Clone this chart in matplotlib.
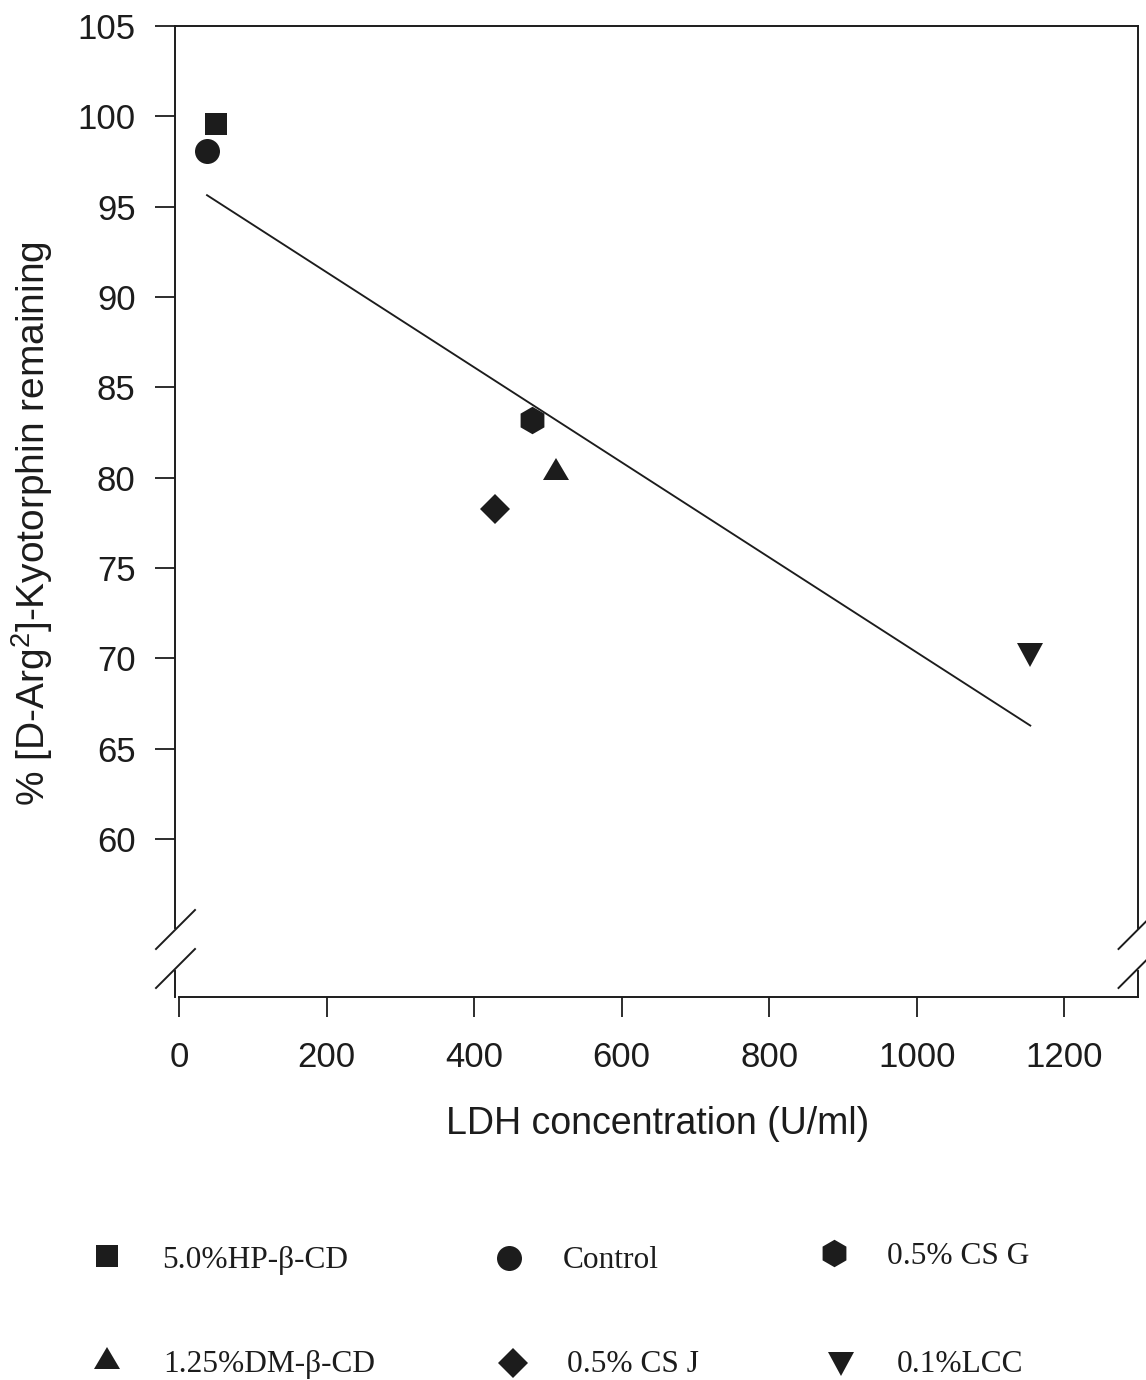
import matplotlib
matplotlib.use('Agg')
import matplotlib.pyplot as plt
import numpy as np
from matplotlib.markers import MarkerStyle
from matplotlib.transforms import Affine2D
from matplotlib.lines import Line2D

# ---------------- data ----------------
labels = ['5.0%HP-β-CD', 'Control', '0.5% CS G', '1.25%DM-β-CD', '0.5% CS J', '0.1%LCC']
ldh = [50, 38, 479, 511, 428, 1154]            # LDH concentration (U/ml)
remaining = [99.6, 98.1, 83.2, 80.5, 78.25, 70.2]  # % remaining

x_ticks = [0, 200, 400, 600, 800, 1000, 1200]
y_ticks = [60, 65, 70, 75, 80, 85, 90, 95, 100, 105]

# ---------------- style ----------------
plt.rcParams['font.family'] = ['Liberation Sans', 'DejaVu Sans']
plt.rcParams['mathtext.fontset'] = 'custom'
plt.rcParams['mathtext.rm'] = 'Liberation Sans'
plt.rcParams['mathtext.it'] = 'Liberation Sans:italic'
plt.rcParams['mathtext.bf'] = 'Liberation Sans:bold'

INK = '#1c1c1c'
W, H = 1146, 1380
fig = plt.figure(figsize=(W / 100, H / 100), dpi=100)
fig.patch.set_facecolor('white')

marker_styles = [
    (MarkerStyle('s'), 15.8),
    (MarkerStyle('o'), 18.0),
    (MarkerStyle('h'), 19.8),
    (MarkerStyle('^', transform=Affine2D().scale(1.0, 0.885)), 18.7),
    (MarkerStyle('D'), 15.3),
    (MarkerStyle('v', transform=Affine2D().scale(1.0, 0.92)), 18.7),
]

# ---------------- main axes ----------------
ax = fig.add_axes([175 / W, 1 - 997 / H, 963 / W, 971 / H])
ax.set_xlim(-5.4, 1300)
ax.set_ylim(51.26, 105)

# regression line
coef = np.polyfit(ldh, remaining, 1)
xs = np.array([min(ldh), max(ldh)])
ax.plot(xs, np.polyval(coef, xs), color=INK, lw=1.35, zorder=2)

for xv, yv, (mk, ms) in zip(ldh, remaining, marker_styles):
    ax.plot([xv], [yv], linestyle='none', marker=mk, markersize=ms,
            color=INK, markeredgewidth=0, zorder=3, clip_on=False)

ax.set_xticks(x_ticks)
ax.set_yticks(y_ticks)
ax.tick_params(axis='both', direction='out', length=14.4, width=1.3,
               labelsize=25, color=INK, labelcolor=INK)
ax.tick_params(axis='y', pad=14)
ax.tick_params(axis='x', pad=17)

for s in ['top', 'bottom']:
    ax.spines[s].set_linewidth(1.4)
    ax.spines[s].set_color(INK)
ax.spines['bottom'].set_bounds(0, 1300)
ax.spines['left'].set_visible(False)
ax.spines['right'].set_visible(False)

# broken left/right spines
y_lo = (997 - 971) / 971
y_hi = (997 - 928) / 971
for xa in (0, 1):
    for seg in ([0, y_lo], [y_hi, 1]):
        ax.add_line(Line2D([xa, xa], seg, transform=ax.transAxes, color=INK,
                           lw=1.4, clip_on=False))


def px_line(x0, y0, x1, y1):
    fig.add_artist(Line2D([x0 / W, x1 / W], [1 - y0 / H, 1 - y1 / H],
                          transform=fig.transFigure, color=INK, lw=1.4))


for cx in (175.5, 1138):
    for cy in (929.5, 968.5):
        px_line(cx - 19.5, cy + 19.5, cx + 19.5, cy - 19.5)

ax.set_xlabel('LDH concentration (U/ml)', fontsize=27, color=INK)
ax.xaxis.set_label_coords(0.5 + 1.5 / 963, -0.112)
ax.set_ylabel('% [D-Arg$^2$]-Kyotorphin remaining', fontsize=28, color=INK)
ax.yaxis.set_label_coords(-0.1246, 0.488)

# ---------------- legend (manual grid below the plot) ----------------
leg = fig.add_axes([0, 0, 1, 1], zorder=-1)
leg.set_xlim(0, W)
leg.set_ylim(H, 0)
leg.axis('off')
leg_marker_pos = [(107, 1256), (509, 1258), (834, 1253),
                  (107, 1358), (512.5, 1363), (841, 1364)]
leg_text_pos = [(162, 1268), (563, 1268), (887, 1264.3),
                (163, 1371.7), (567, 1371.7), (897, 1371.7)]
for lab, (mk, ms), (mx, my), (tx, ty) in zip(labels, marker_styles,
                                             leg_marker_pos, leg_text_pos):
    leg.plot([mx], [my], linestyle='none', marker=mk, markersize=ms,
             color=INK, markeredgewidth=0)
    leg.text(tx, ty, lab, fontsize=22.6, family=['Liberation Serif', 'DejaVu Serif'],
             ha='left', va='baseline', color=INK)

fig.savefig('out.png', dpi=100, facecolor='white')
